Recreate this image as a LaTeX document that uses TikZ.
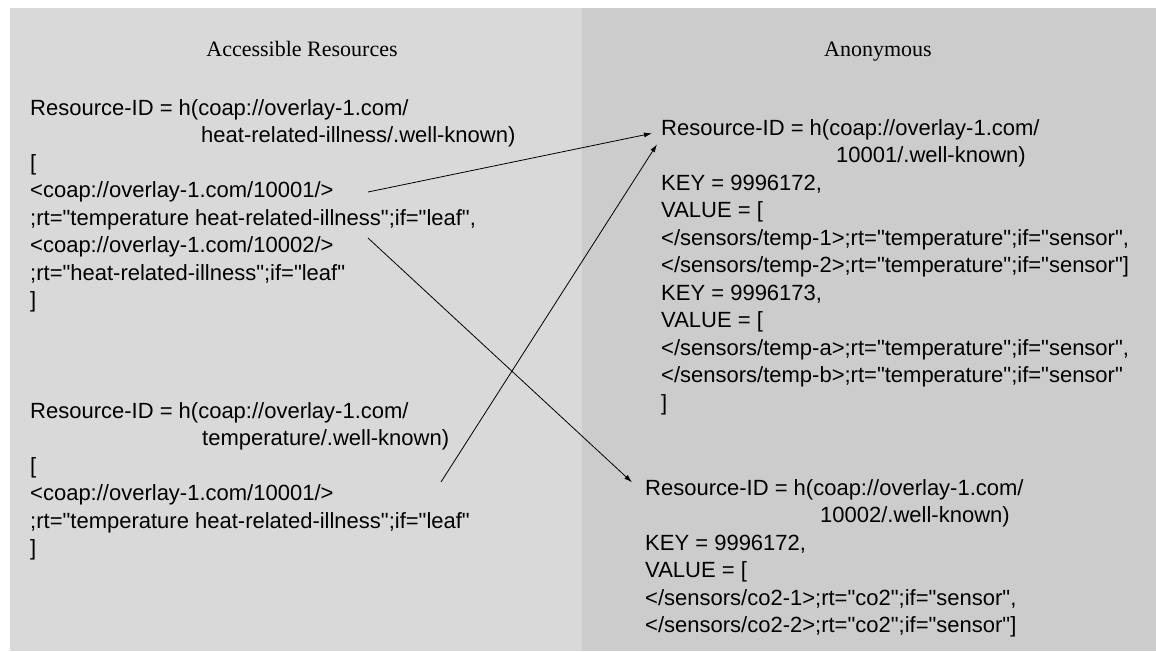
\documentclass[tikz,border=0pt]{standalone}
\usepackage{fontspec}
\newfontfamily\bodyfont{Liberation Sans}
\newfontfamily\titlefont{Liberation Serif}
\usetikzlibrary{arrows.meta}
\definecolor{leftgrey}{RGB}{217,217,217}
\definecolor{rightgrey}{RGB}{204,204,204}
\begin{document}
\begin{tikzpicture}[x=1pt,y=-1pt,
  txt/.style={anchor=base west,inner sep=0pt,font=\bodyfont\fontsize{22}{26}\selectfont},
  ttl/.style={anchor=base,inner sep=0pt,font=\titlefont\fontsize{22}{26}\selectfont},
  link/.style={-{Latex[length=8pt,width=5pt]},line width=0.8pt}]
\useasboundingbox (0,0) rectangle (1156,651);
\fill[white] (0,0) rectangle (1156,651);
\fill[leftgrey] (10,8) rectangle (582,651);
\fill[rightgrey] (582,8) rectangle (1156,651);
% titles
\node[ttl] (t1) at (302,56) {Accessible Resources};
\node[ttl] (t2) at (878,56) {Anonymous};
% left block 1
\node[txt] (a1) at (30,115) {Resource-ID = h(coap://overlay-1.com/};
\node[txt] (a2) at (201,142.5) {heat-related-illness/.well-known)};
\node[txt] (a3) at (30,170) {[};
\node[txt] (a4) at (30,197.5) {<coap://overlay-1.com/10001/>};
\node[txt] (a5) at (30,225) {;rt="temperature heat-related-illness";if="leaf",};
\node[txt] (a6) at (30,252.5) {<coap://overlay-1.com/10002/>};
\node[txt] (a7) at (30,280) {;rt="heat-related-illness";if="leaf"};
\node[txt] (a8) at (30,307.5) {]};
% left block 2
\node[txt] (b1) at (30,418) {Resource-ID = h(coap://overlay-1.com/};
\node[txt] (b2) at (202,445.5) {temperature/.well-known)};
\node[txt] (b3) at (30,473) {[};
\node[txt] (b4) at (30,500.5) {<coap://overlay-1.com/10001/>};
\node[txt] (b5) at (30,528) {;rt="temperature heat-related-illness";if="leaf"};
\node[txt] (b6) at (30,555.5) {]};
% right block 1
\node[txt] (c1) at (661,135) {Resource-ID = h(coap://overlay-1.com/};
\node[txt] (c2) at (836,162.5) {10001/.well-known)};
\node[txt] (c3) at (661,190) {KEY = 9996172,};
\node[txt] (c4) at (661,217.5) {VALUE = [};
\node[txt] (c5) at (661,245) {</sensors/temp-1>;rt="temperature";if="sensor",};
\node[txt] (c6) at (661,272.5) {</sensors/temp-2>;rt="temperature";if="sensor"]};
\node[txt] (c7) at (661,300) {KEY = 9996173,};
\node[txt] (c8) at (661,327.5) {VALUE = [};
\node[txt] (c9) at (661,355) {</sensors/temp-a>;rt="temperature";if="sensor",};
\node[txt] (c10) at (661,382.5) {</sensors/temp-b>;rt="temperature";if="sensor"};
\node[txt] (c11) at (661,410) {]};
% right block 2
\node[txt] (d1) at (645,495) {Resource-ID = h(coap://overlay-1.com/};
\node[txt] (d2) at (820,522.5) {10002/.well-known)};
\node[txt] (d3) at (645,550) {KEY = 9996172,};
\node[txt] (d4) at (645,577.5) {VALUE = [};
\node[txt] (d5) at (645,605) {</sensors/co2-1>;rt="co2";if="sensor",};
\node[txt] (d6) at (645,632.5) {</sensors/co2-2>;rt="co2";if="sensor"]};
% connectors
\coordinate (s1) at (368,192);
\coordinate (s2) at (441,482);
\coordinate (s3) at (368,238);
\draw[link] (s1) -- ([shift={(-9,4)}]c1.west);
\draw[link] (s2) -- ([shift={(-4,15)}]c1.west);
\draw[link] (s3) -- ([shift={(-13,-7)}]d1.west);
\end{tikzpicture}
\end{document}
